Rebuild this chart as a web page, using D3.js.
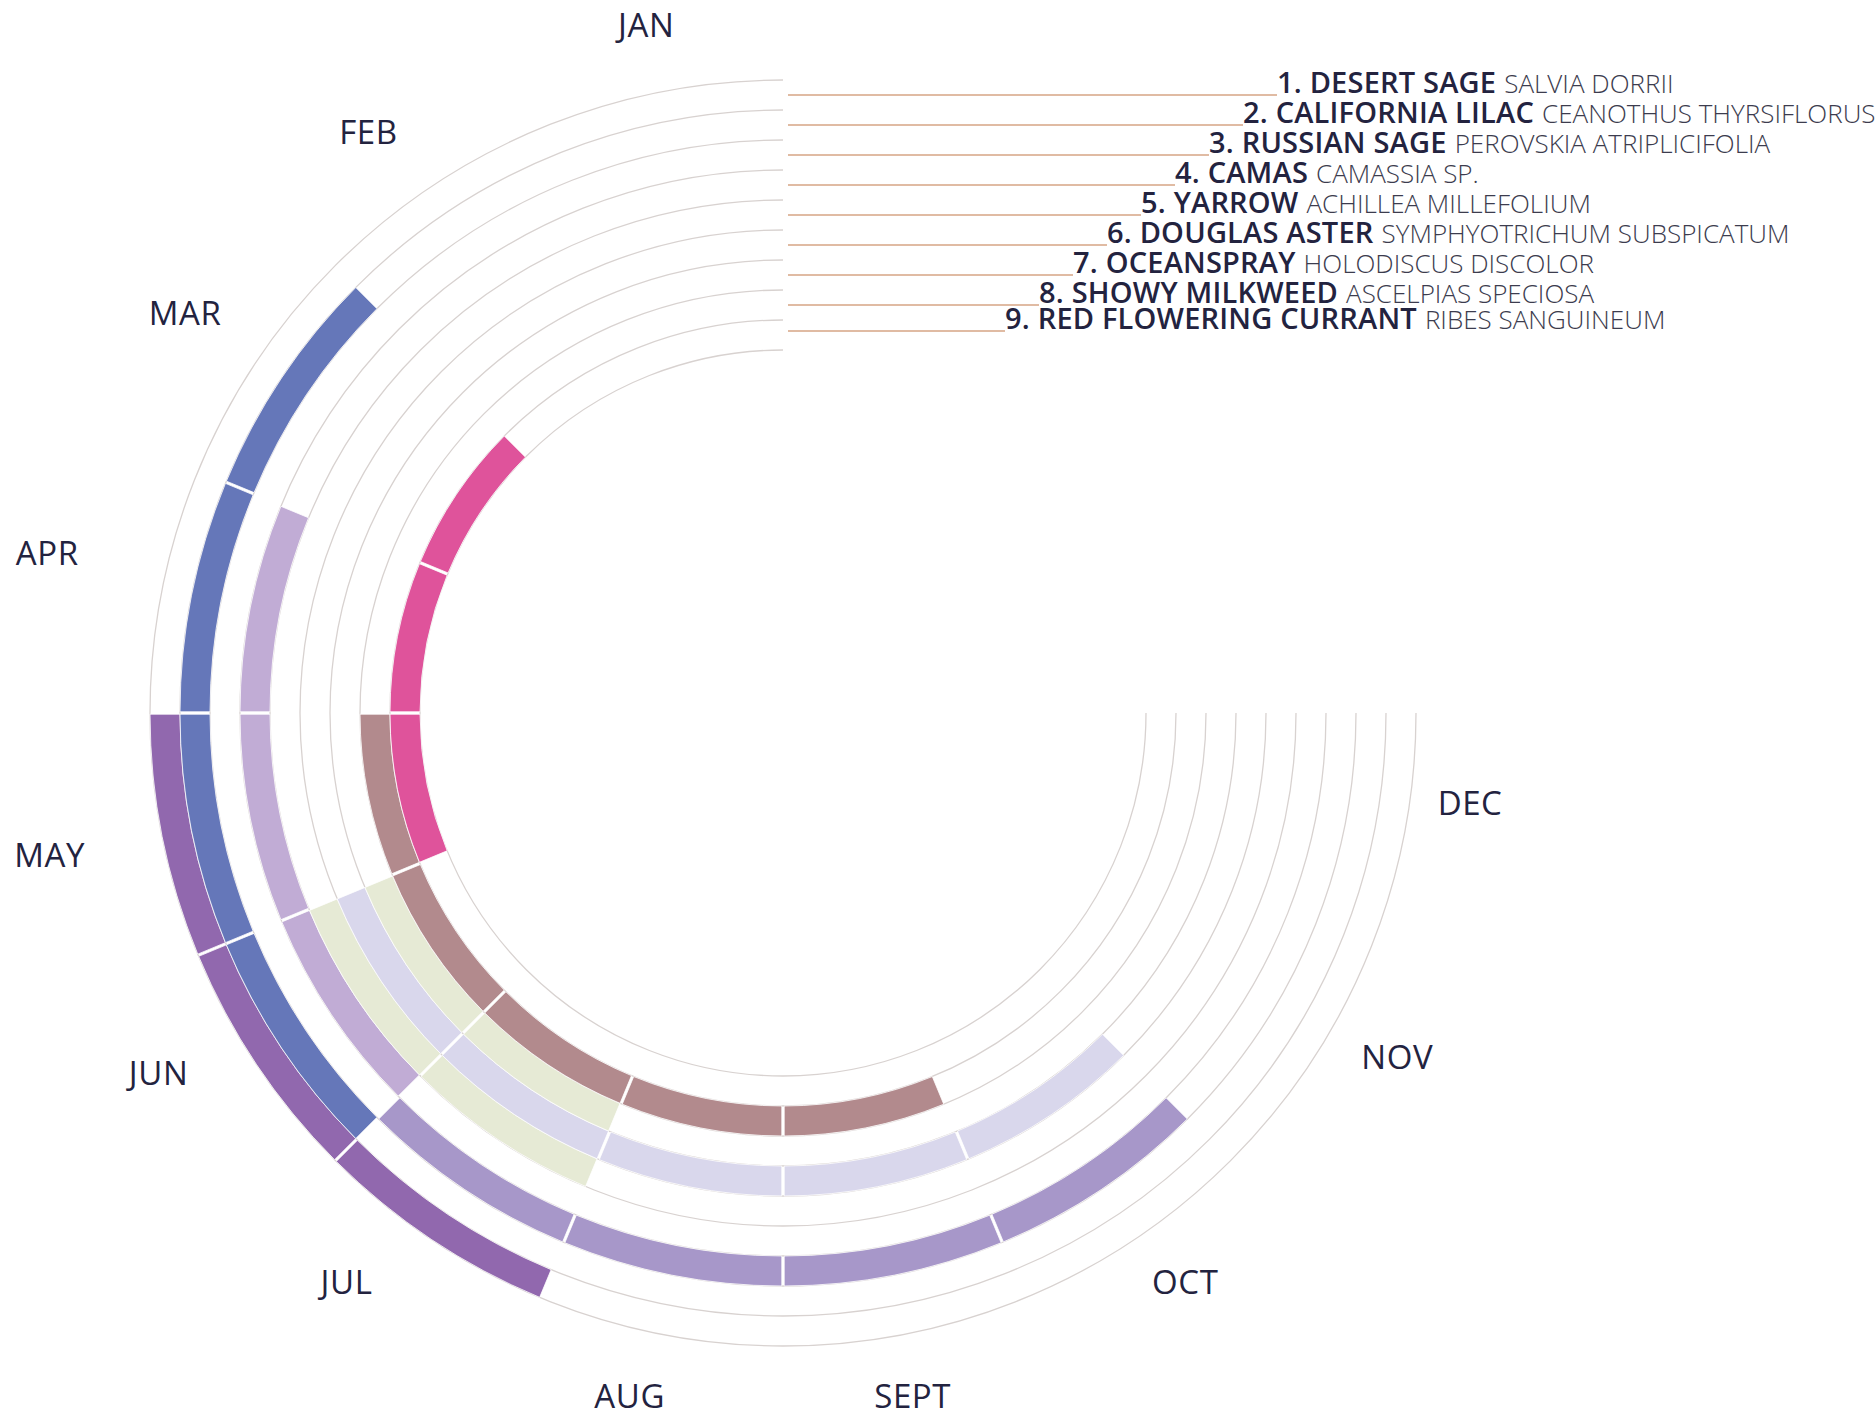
<!DOCTYPE html>
<html>
<head>
<meta charset="utf-8">
<script src="https://cdn.jsdelivr.net/npm/d3@7"></script>
<style>
  body { margin: 0; background: #fff; }
  svg { display: block; }
</style>
</head>
<body>
<svg id="chart" width="1875" height="1419"></svg>
<script>
// Bloom calendar: one ring per plant, one segment per flowering month.
const months = ["JAN", "FEB", "MAR", "APR", "MAY", "JUN", "JUL", "AUG", "SEPT", "OCT", "NOV", "DEC"];
const commonNames = ["DESERT SAGE", "CALIFORNIA LILAC", "RUSSIAN SAGE", "CAMAS", "YARROW",
  "DOUGLAS ASTER", "OCEANSPRAY", "SHOWY MILKWEED", "RED FLOWERING CURRANT"];
const latinNames = ["SALVIA DORRII", "CEANOTHUS THYRSIFLORUS", "PEROVSKIA ATRIPLICIFOLIA", "CAMASSIA SP.",
  "ACHILLEA MILLEFOLIUM", "SYMPHYOTRICHUM SUBSPICATUM", "HOLODISCUS DISCOLOR", "ASCELPIAS SPECIOSA",
  "RIBES SANGUINEUM"];
// first and last flowering month (0 = January), inclusive
const bloomFirst = [4, 2, 6, 3, 5, 5, 5, 4, 2];
const bloomLast  = [6, 5, 9, 5, 6, 9, 6, 8, 4];

// ring colours, outermost first
const palette = ["#9168ae", "#6577b9", "#a797c9", "#c1acd5", "#e6ead5",
  "#d9d7ec", "#e6ead5", "#b28a8d", "#df539b"];

// month label placement: angular nudge (degrees) and radius
const monthLabelLayout = [[0, 701], [1.75, 714], [0, 719], [-1, 753], [-0.25, 747], [-3.75, 721],
  [-3.75, 717], [-1.4, 700], [-0.5, 695], [1.5, 697], [4.5, 704], [3.75, 693]];

const cx = 783, cy = 713;
const outerR = 633, innerR = 363;
const ink = "#23233f";

const svg = d3.select("#chart");
const g = svg.append("g").attr("transform", `translate(${cx},${cy})`);

// 12 months over three quarters of a turn, running anticlockwise from 12 o'clock
const angle = d3.scaleLinear().domain([0, 12]).range([0, -1.5 * Math.PI]);
const ring = d3.scaleBand().domain(d3.range(commonNames.length)).range([outerR, innerR]);
const bw = ring.bandwidth();

// ring guide lines
const radii = d3.range(commonNames.length + 1).map(k => innerR + k * bw);
g.append("g").selectAll("path").data(radii).join("path")
  .attr("d", r => {
    const p = d3.path();
    p.arc(0, 0, r, -Math.PI / 2, -Math.PI / 2 + angle(12), true);
    return p.toString();
  })
  .attr("fill", "none")
  .attr("stroke", "#d8d2d0")
  .attr("stroke-width", 1.3);

// flowering segments
const segments = [];
commonNames.forEach((name, i) => {
  for (let m = bloomFirst[i]; m <= bloomLast[i]; m++) segments.push({ i, m });
});

const arc = d3.arc()
  .innerRadius(d => ring(d.i))
  .outerRadius(d => ring(d.i) + bw)
  .startAngle(d => angle(d.m))
  .endAngle(d => angle(d.m + 1))
  .padRadius(100)
  .padAngle(0.024);

g.append("g").selectAll("path").data(segments).join("path")
  .attr("d", arc)
  .attr("fill", d => palette[d.i])
  .attr("stroke", "#fff")
  .attr("stroke-width", 0.8);

// month labels
g.append("g").selectAll("text").data(months).join("text")
  .attr("transform", (m, k) => {
    const a = angle(k + 0.5) - monthLabelLayout[k][0] * Math.PI / 180;
    const r = monthLabelLayout[k][1];
    const x = r * Math.sin(a), y = -r * Math.cos(a);
    return `translate(${x},${y + 11.8})`;
  })
  .attr("text-anchor", "middle")
  .attr("font-family", "'Open Sans', sans-serif")
  .attr("font-size", 33)
  .attr("letter-spacing", 0.6)
  .attr("fill", ink)
  .text(m => m);

// legend: leader line from the top of each ring to its name
const legend = svg.append("g");
commonNames.forEach((name, i) => {
  const y = cy - (ring(i) + bw / 2) - (i === commonNames.length - 1 ? 4 : 0);
  const xEnd = 1277 - 34 * i;
  legend.append("line")
    .attr("x1", cx + 5).attr("x2", xEnd)
    .attr("y1", y).attr("y2", y)
    .attr("stroke", "#d6a484")
    .attr("stroke-width", 1.5);
  const t = legend.append("text")
    .attr("x", xEnd)
    .attr("y", y - 2)
    .attr("font-family", "'Open Sans', sans-serif")
    .attr("fill", ink);
  t.append("tspan")
    .attr("font-size", 29)
    .attr("font-weight", 600)
    .attr("letter-spacing", 0.2)
    .text(`${i + 1}. ${name}`);
  t.append("tspan")
    .attr("font-size", 26)
    .attr("font-weight", 300)
    .attr("fill", "#3c3c4e")
    .attr("dx", 8)
    .text(latinNames[i]);
});
</script>
</body>
</html>
